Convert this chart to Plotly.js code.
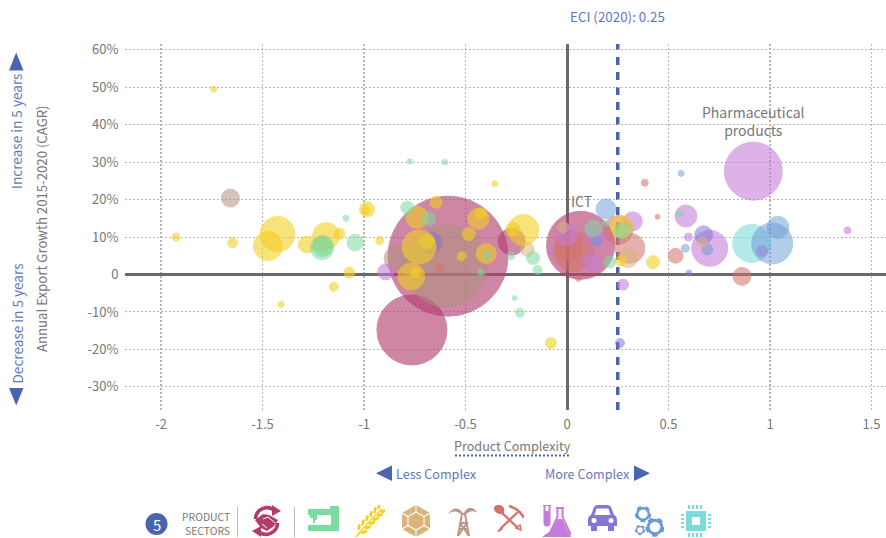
<!DOCTYPE html>
<html>
<head>
<meta charset="utf-8">
<script src="https://cdn.plot.ly/plotly-3.0.1.min.js"></script>
<style>html,body{margin:0;padding:0;background:#fff;overflow:hidden}#chart{width:886px;height:538px}</style>
</head>
<body>
<div id="chart"></div>
<script>
// Data: complexity (x), export growth % (y), relative export value (size)
const xTickVals = [-2, -1.5, -1, -0.5, 0, 0.5, 1, 1.5];
const xTickText = ["-2", "-1.5", "-1", "-0.5", "0", "0.5", "1", "1.5"];
const yTickVals = [-30, -20, -10, 0, 10, 20, 30, 40, 50, 60];
const yTickText = ["-30%", "-20%", "-10%", "0", "10%", "20%", "30%", "40%", "50%", "60%"];
const eciValue = 0.25;

const servicesX = [-0.586, -0.764, -0.272, 0.067];
const servicesY = [4.9, -14.8, 8.8, 7.8];
const servicesS = [14400, 4900, 729, 4624];

const mineralsX = [-1.658, -0.839, -0.596];
const mineralsY = [20.4, 4.3, 2.3];
const mineralsS = [324, 625, 6724];

const metalsX = [-0.627, 0.383, 0.446, 0.535, 0.862, 0.034, 0.008, 0.310, 0.253, 0.056];
const metalsY = [1.7, 24.5, 15.4, 5.0, -0.5, 6.1, 7.3, 7.0, 11.9, -1.0];
const metalsS = [81, 49, 25, 225, 324, 1600, 784, 900, 841, 36];

const electronicsX = [0.91];
const electronicsY = [8.3];
const electronicsS = [1444];

const chemicalsX = [0.918, -0.893, 0, 0.122, 0.138, -0.084, 0.324, 0.276, 0.586, 0.598, 0.703, 0.961, 1.381];
const chemicalsY = [27.6, 0.7, 10.6, 3.3, 10.3, 6.0, 14.2, -2.7, 15.6, 10.0, 7.0, 6.3, 11.8];
const chemicalsS = [3364, 256, 484, 324, 400, 36, 361, 121, 484, 64, 1296, 121, 49];

const machineryX = [0.562, 0.192, 0.144, 0.583, 0.691, 1.011, 1.039];
const machineryY = [27.0, 17.5, 8.8, 7.0, 6.7, 8.3, 12.6];
const machineryS = [36, 400, 100, 64, 121, 1681, 484];

const vehiclesX = [-0.670, 0.673, 0.261, 0.600];
const vehiclesY = [8.4, 10.6, -18.3, 0.4];
const vehiclesS = [484, 324, 81, 36];

const stoneX = [-0.196, -0.018, 0.302, 0.667];
const stoneY = [6.7, 12.6, 4.4, 8.6];
const stoneS = [196, 121, 361, 121];

const agricultureX = [-1.741, -1.926, -1.647, -1.426, -1.473, -1.281, -1.187, -1.121, -1.207, -0.985, -0.990, -0.923, -1.072, -1.149, -1.409, -0.355, -0.079, 0.424, -0.739, -0.645, -0.437, -0.424, -0.484, -0.398, -0.519, -0.728, -0.690, -0.767, -0.745, -0.215, -0.267, 0.265, 0.269];
const agricultureY = [49.5, 10.0, 8.5, 10.8, 7.6, 8.0, 10.3, 10.9, 8.1, 17.4, 17.1, 9.1, 0.5, -3.3, -8.0, 24.2, -18.3, 3.3, 15.3, 19.3, 14.9, 16.3, 10.8, 5.6, 4.9, 7.4, 8.8, -0.5, 0.6, 11.9, 12.1, 3.7, 12.8];
const agricultureS = [36, 64, 100, 1225, 841, 289, 729, 121, 289, 225, 81, 64, 121, 81, 36, 36, 121, 169, 484, 144, 441, 121, 169, 400, 81, 1156, 225, 729, 100, 961, 196, 121, 484];

const textilesX = [-0.775, -0.602, -1.089, -1.043, -1.207, -1.203, -0.787, -0.681, -0.394, -0.425, -0.276, -0.167, -0.145, -0.258, -0.232, 0.130, 0.210, 0.272, 0.555, 0.191];
const textilesY = [30.2, 30.0, 15.0, 8.5, 7.0, 7.6, 17.9, 14.9, 5.2, 0.6, 5.0, 4.4, 1.2, -6.3, -10.2, 12.3, 3.3, 11.7, 16.2, 13.7];
const textilesS = [30, 36, 36, 272, 529, 441, 169, 196, 64, 42, 64, 169, 81, 25, 81, 289, 144, 256, 49, 36];

const sectors = [
  ["Services", servicesX, servicesY, servicesS, "#b23d6d", 0.62],
  ["Minerals", mineralsX, mineralsY, mineralsS, "#b0917f", 0.55],
  ["Metals", metalsX, metalsY, metalsS, "#d3736a", 0.55],
  ["Electronics", electronicsX, electronicsY, electronicsS, "#7ddada", 0.58],
  ["Chemicals", chemicalsX, chemicalsY, chemicalsS, "#c57bd9", 0.58],
  ["Machinery", machineryX, machineryY, machineryS, "#6a9ad6", 0.5],
  ["Vehicles", vehiclesX, vehiclesY, vehiclesS, "#8376d6", 0.55],
  ["Stone", stoneX, stoneY, stoneS, "#dab47d", 0.55],
  ["Agriculture", agricultureX, agricultureY, agricultureS, "#f5cf23", 0.6],
  ["Textiles", textilesX, textilesY, textilesS, "#7ddaa1", 0.55]
];

const FONT = '"Noto Sans CJK SC", "Noto Sans", sans-serif';
const BLUE = "#4a64ae", LBLUE = "#6378b8", GREY = "#777777";
const L = 125, W = 761, T = 44, H = 366;
const px = p => (p - L) / W;
const py = p => (T + H - p) / H;

const traces = sectors.map(s => ({
  type: "scatter", mode: "markers", name: s[0], x: s[1], y: s[2],
  hoverinfo: "name",
  marker: { size: s[3], sizemode: "area", sizeref: 2, color: s[4], opacity: s[5],
            line: { color: s[4], width: 1 } }
}));

function note(text, x, y, size, color, extra) {
  return Object.assign({ text: text, xref: "paper", yref: "paper", x: px(x), y: py(y),
    showarrow: false, font: { family: FONT, size: size, color: color },
    xanchor: "center", yanchor: "middle" }, extra || {});
}
function tri(points) {
  const d = points.map((q, i) => (i ? "L" : "M") + px(q[0]) + "," + py(q[1])).join(" ") + " Z";
  return { type: "path", path: d, xref: "paper", yref: "paper", fillcolor: BLUE, line: { width: 0 } };
}
function rule(x0, y0, x1, y1, color, width, dash) {
  return { type: "line", xref: "paper", yref: "paper", x0: px(x0), y0: py(y0), x1: px(x1), y1: py(y1),
           line: { color: color, width: width, dash: dash || "solid" } };
}

const annotations = [
  note("ECI (2020): 0.25", 617.5, 16, 13.4, LBLUE),
  note("Pharmaceutical<br>products", 753, 121.5, 14, GREY),
  note("ICT", 581, 200.5, 14, GREY),
  note("Product Complexity", 512.5, 445.5, 12.6, GREY),
  note("Less Complex", 436, 473, 12.6, LBLUE),
  note("More Complex", 587.5, 473, 12.6, LBLUE),
  note("Annual Export Growth 2015-2020 (CAGR)", 41, 229, 13.2, GREY, { textangle: -90 }),
  note("Increase in 5 years", 16, 132, 13.6, LBLUE, { textangle: -90 }),
  note("Decrease in 5 years", 16, 323.5, 13.6, LBLUE, { textangle: -90 }),
  note("5", 156.5, 524, 15, "#ffffff"),
  note("PRODUCT", 232, 516.5, 10.4, GREY, { xanchor: "right" }),
  note("SECTORS", 232, 530.5, 10.4, GREY, { xanchor: "right" })
];

const shapes = [
  { type: "line", xref: "x", yref: "paper", x0: eciValue, x1: eciValue, y0: 0, y1: 1, layer: "below",
    line: { color: BLUE, width: 3.5, dash: "8px,7px" } },
  rule(455, 455.5, 570, 455.5, BLUE, 2, "2px,2px"),
  tri([[9, 70.5], [23.5, 70.5], [16.2, 52.5]]),
  tri([[9, 388], [23.5, 388], [16.2, 405.5]]),
  tri([[392, 465.5], [392, 481], [376, 473.2]]),
  tri([[634, 465.5], [634, 481], [650, 473.2]]),
  rule(237.5, 507, 237.5, 537, "#bbbbbb", 1),
  rule(294.5, 507, 294.5, 537, "#bbbbbb", 1),
  { type: "circle", xref: "paper", yref: "paper", x0: px(145.5), x1: px(167.5), y0: py(535), y1: py(513),
    fillcolor: BLUE, line: { width: 0 } }
];

// Sector icons
function svg(w, h, body) {
  return "data:image/svg+xml;utf8," + encodeURIComponent(
    '<svg xmlns="http://www.w3.org/2000/svg" width="' + w * 4 + '" height="' + h * 4 + '" viewBox="0 0 ' + w + ' ' + h + '">' + body + '</svg>');
}
let wheat = '<path d="M1 32 Q12 18 27 4" stroke="#f5cf23" stroke-width="1.6" fill="none"/>';
[[6, 25], [10, 20.5], [14, 16], [18, 12], [22, 8], [26, 4]].forEach(q => {
  wheat += '<ellipse cx="' + (q[0] - 2) + '" cy="' + (q[1] - 3) + '" rx="1.5" ry="3.4" fill="#f5cf23" transform="rotate(10 ' + (q[0] - 2) + ' ' + (q[1] - 3) + ')"/>';
  wheat += '<ellipse cx="' + (q[0] + 3) + '" cy="' + (q[1] + 2) + '" rx="1.5" ry="3.4" fill="#f5cf23" transform="rotate(70 ' + (q[0] + 3) + ' ' + (q[1] + 2) + ')"/>';
});
function gear(cx, cy, r, c) {
  return '<circle cx="' + cx + '" cy="' + cy + '" r="' + r + '" fill="none" stroke="' + c + '" stroke-width="' + (r * 0.42) + '"/>' +
    '<circle cx="' + cx + '" cy="' + cy + '" r="' + (r * 1.25) + '" fill="none" stroke="' + c + '" stroke-width="' + (r * 0.35) + '" stroke-dasharray="' + (r * 0.8) + ' ' + (r * 0.77) + '"/>';
}
const icons = [
  [251, 505, 31, 32, '<g fill="none" stroke="#b23d6d" stroke-width="3.6"><path d="M4.5 14 A11.5 11.5 0 0 1 24 6"/><path d="M26.5 18 A11.5 11.5 0 0 1 7 26"/></g>' +
    '<path d="M21 0 L30 6 L21 11Z M10 32 L1 26 L10 21Z" fill="#b23d6d"/>' +
    '<path d="M4 15 L12 9 L18 10 L27 15 L23 21 L16 26 L10 23 Z" fill="#b23d6d"/><path d="M12 14 L17 12 L24 18 M11 19 L16 23" stroke="#fff" stroke-width="1" fill="none"/>'],
  [308, 505, 31, 26, '<path d="M0 4H22V1H31V26H0V20H23V10H9V15H7V18H5V13H2V10H0Z" fill="#7ddaa1"/>'],
  [355, 505, 30, 32, wheat],
  [402, 505, 28, 32, '<path d="M14 0L28 8V24L14 32L0 24V8Z" fill="#dab47d"/><path d="M14 7L22 11.5V20.5L14 25L6 20.5V11.5Z M14 0V7 M28 8L22 11.5 M28 24L22 20.5 M14 32V25 M0 24L6 20.5 M0 8L6 11.5" fill="none" stroke="#fff" stroke-width="1.1"/>'],
  [448, 505, 30, 31, '<g fill="none" stroke="#bb968a" stroke-width="2"><path d="M10 31L14 9H17L21 31"/><path d="M12 18H19L10 31 M12 18L21 31 M11.5 24H19.5"/></g>' +
    '<path d="M15 8C10 1 4 3 0 9C5 5 10 6 14 10Z M16 8C20 0 25 2 30 8C25 5 21 6 17 10Z" fill="#bb968a"/>'],
  [494, 505, 30, 27, '<g stroke="#d3736a" fill="none"><path d="M7 7L24 23" stroke-width="2.4"/><path d="M24 7L6 24" stroke-width="2.4"/><path d="M15 1C22 3 27 7 30 13" stroke-width="2.6"/><path d="M22 23L27 25L26 20Z" stroke-width="1.5"/></g>' +
    '<path d="M0 3C0 0 5 -1 8 1C11 3 11 7 9 9C6 10 0 8 0 3Z" fill="#d3736a"/><path d="M3 26L8 22L9 24L5 27Z" fill="#d3736a"/>'],
  [542, 505, 29, 32, '<path d="M1 0H9M2.5 0V18A2.5 2.5 0 0 0 7.5 18V0M14 3H22M15.5 3V12L6 32 M20.5 3V12L29 30" fill="none" stroke="#c57bd9" stroke-width="2"/><path d="M3 6H7V19A2 2 0 0 1 3 19Z M16 14H20L29 32H0L7 27Z" fill="#c57bd9"/>'],
  [588, 505, 29, 26, '<path d="M3 10L6 2Q7 0 10 0H19Q22 0 23 2L26 10Q29 11 29 15V21H26V26H20V21H9V26H3V21H0V15Q0 11 3 10Z" fill="#8376d6"/><path d="M6.5 10L8.5 3.5H20.5L22.5 10Z" fill="#fff"/><circle cx="6" cy="15.5" r="2.5" fill="#fff"/><circle cx="23" cy="15.5" r="2.5" fill="#fff"/>'],
  [634, 505, 30, 32, gear(9, 9, 5.8, "#6a9ad6") + gear(21, 22, 6.8, "#6a9ad6") + gear(6, 25, 3.6, "#6a9ad6")],
  [681, 505, 30, 32, '<rect x="5" y="6" width="20" height="20" fill="#7ddada"/><rect x="11" y="12" width="8" height="8" fill="#fff"/>' +
    '<path d="M8 0V4M12 0V4M16 0V4M20 0V4M8 28V32M12 28V32M16 28V32M20 28V32M0 10H3M0 14H3M0 18H3M0 22H3M27 10H30M27 14H30M27 18H30M27 22H30" stroke="#7ddada" stroke-width="2.2"/>']
];
const images = icons.map(i => ({
  source: svg(i[2], i[3], i[4]), xref: "paper", yref: "paper",
  x: px(i[0]), y: py(i[1]), sizex: i[2] / W, sizey: i[3] / H,
  xanchor: "left", yanchor: "top", sizing: "stretch", layer: "above"
}));

const axisFont = { family: FONT, size: 13, color: GREY };
const layout = {
  width: 886, height: 538, autosize: false, showlegend: false,
  paper_bgcolor: "#ffffff", plot_bgcolor: "#ffffff",
  margin: { l: L, r: 886 - L - W, t: T, b: 538 - T - H, pad: 0 },
  font: { family: FONT },
  xaxis: {
    range: [(L - 567) / 203, (L + W - 567) / 203], tickmode: "array", tickvals: xTickVals, ticktext: xTickText,
    tickfont: axisFont, showgrid: true, gridcolor: "#b5b5b5", griddash: "2px,2px", gridwidth: 1.3,
    zeroline: true, zerolinecolor: "#6a6a6a", zerolinewidth: 3, showline: false,
    ticks: "outside", ticklen: 2, tickcolor: "rgba(0,0,0,0)", fixedrange: true
  },
  yaxis: {
    range: [(274.5 - T - H) / 3.745, (274.5 - T) / 3.745], tickmode: "array", tickvals: yTickVals, ticktext: yTickText,
    tickfont: axisFont, showgrid: true, gridcolor: "#b5b5b5", griddash: "2px,2px", gridwidth: 1,
    zeroline: true, zerolinecolor: "#6a6a6a", zerolinewidth: 3, showline: false,
    ticks: "outside", ticklen: 3, tickcolor: "rgba(0,0,0,0)", fixedrange: true
  },
  annotations: annotations, shapes: shapes, images: images
};
Plotly.newPlot("chart", traces, layout, { displayModeBar: false, staticPlot: true });
</script>
</body>
</html>
